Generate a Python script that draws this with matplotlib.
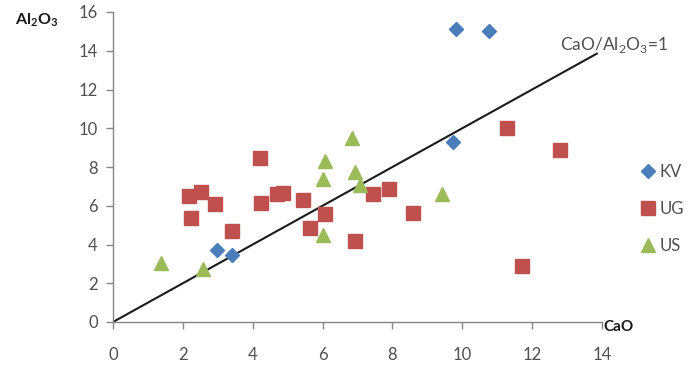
import matplotlib
matplotlib.use("Agg")
import matplotlib.pyplot as plt

plt.rcParams['font.family'] = ['Lato', 'DejaVu Sans']
plt.rcParams['mathtext.fontset'] = 'custom'
plt.rcParams['mathtext.rm'] = 'Lato'
plt.rcParams['mathtext.bf'] = 'Lato:bold'

kv_cao = [9.82, 10.76, 9.72, 2.98, 3.41]
kv_al = [15.1, 15.0, 9.3, 3.72, 3.46]

ug_cao = [2.17, 2.53, 2.93, 2.24, 3.42, 4.23, 4.70, 4.88, 5.45, 5.64, 6.07, 6.92,
          4.21, 7.45, 7.91, 8.58, 11.71, 11.28, 12.8]
ug_al = [6.5, 6.71, 6.09, 5.37, 4.71, 6.12, 6.61, 6.67, 6.3, 4.85, 5.57, 4.2,
         8.46, 6.61, 6.88, 5.61, 2.91, 10.0, 8.88]

us_cao = [1.36, 2.57, 6.02, 6.02, 6.07, 6.84, 6.93, 7.07, 9.42]
us_al = [3.05, 2.75, 4.5, 7.4, 8.3, 9.5, 7.75, 7.05, 6.6]

line_x = [0, 13.85]
line_y = [0, 13.85]

xticks = [0, 2, 4, 6, 8, 10, 12, 14]
yticks = [0, 2, 4, 6, 8, 10, 12, 14, 16]

fig = plt.figure(figsize=(6.92, 3.66), dpi=100)
ax = fig.add_axes([113/692, 1-322/366, (602-113)/692, (322-12)/366])

axcol = '#868686'
txtcol = '#505050'

ax.plot(line_x, line_y, color='#1a1a1a', lw=1.5, zorder=2)
ax.plot(kv_cao, kv_al, ls='none', marker='D', ms=7.5, color='#4A7EBB', label='KV', zorder=3)
ax.plot(ug_cao, ug_al, ls='none', marker='s', ms=10, color='#C0504D', label='UG', zorder=3)
ax.plot(us_cao, us_al, ls='none', marker='^', ms=10, color='#9BBB59', label='US', zorder=3)

ax.set_xlim(0, 14)
ax.set_ylim(0, 16)
ax.set_xticks(xticks)
ax.set_yticks(yticks)
for s in ['top', 'right']:
    ax.spines[s].set_visible(False)
for s in ['left', 'bottom']:
    ax.spines[s].set_color(axcol)
    ax.spines[s].set_linewidth(1.0)
ax.tick_params(axis='both', direction='out', length=5, width=1, color=axcol,
               labelsize=12, labelcolor=txtcol)
ax.tick_params(axis='x', pad=13)
ax.tick_params(axis='y', pad=6)

fig.text(15/692, 1-20/366, r'Al$_\mathbf{2}$O$_\mathbf{3}$', fontsize=11.5,
         fontweight='bold', color='#1a1a1a', va='center', ha='left')
fig.text(603/692, 1-327/366, 'CaO', fontsize=11, fontweight='bold',
         color='#1a1a1a', va='center', ha='left')
fig.text(560/692, 1-45/366, r'CaO/Al$_\mathregular{2}$O$_\mathregular{3}$=1', fontsize=12.5,
         color=txtcol, va='center', ha='left')

leg = fig.legend(loc='upper left', bbox_to_anchor=(623/692, 1-149/366), frameon=False,
                 fontsize=12, labelspacing=1.25, handletextpad=0.1, handlelength=1.2,
                 labelcolor=txtcol)

fig.savefig('out.png', dpi=100)
